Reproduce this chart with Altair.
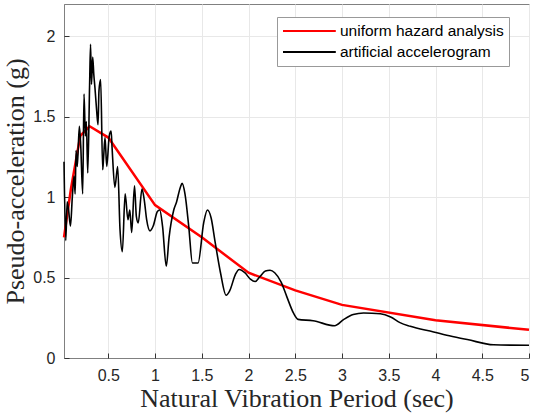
import altair as alt
import pandas as pd

# Uniform hazard analysis spectrum
uha_T = [0.026, 0.1, 0.2, 0.3, 0.5, 1.0, 1.5, 2.0, 2.5, 3.0, 4.0, 5.0]
uha_Sa = [0.75, 1.05, 1.38, 1.44, 1.37, 0.95, 0.75, 0.53, 0.42, 0.33, 0.235, 0.175]

# Artificial accelerogram spectrum
art_T = [0.026, 0.045, 0.06, 0.075, 0.095, 0.115, 0.133, 0.145, 0.155, 0.168,
         0.19, 0.205, 0.226, 0.24, 0.255, 0.265, 0.28, 0.30, 0.31, 0.32,
         0.333, 0.345, 0.357, 0.375, 0.39, 0.40, 0.418, 0.44, 0.45, 0.465,
         0.483, 0.51, 0.53, 0.54, 0.57, 0.60, 0.625, 0.65, 0.68, 0.71,
         0.73, 0.75, 0.78, 0.80, 0.82, 0.86, 0.885, 0.91, 0.946, 0.98,
         1.025, 1.05, 1.08, 1.12, 1.15, 1.20, 1.23, 1.27, 1.29, 1.32,
         1.36, 1.40, 1.46, 1.52, 1.56, 1.60, 1.64, 1.70, 1.76, 1.80,
         1.86, 1.90, 1.96, 2.02, 2.07, 2.12, 2.18, 2.23, 2.28, 2.35,
         2.41, 2.48, 2.53, 2.69, 2.92, 3.02, 3.12, 3.23, 3.41, 3.52,
         3.62, 3.73, 3.98, 4.12, 4.34, 4.62, 5.0]
art_Sa = [1.22, 0.73, 0.97, 0.92, 0.82, 1.00, 1.13, 1.02, 1.29, 1.19,
          1.44, 1.32, 1.02, 1.64, 1.38, 1.47, 1.15, 1.70, 1.95, 1.70,
          1.87, 1.76, 1.68, 1.54, 1.45, 1.66, 1.73, 1.17, 1.25, 1.37,
          1.19, 1.38, 1.41, 1.31, 1.06, 1.19, 0.80, 0.66, 1.02, 0.86,
          0.92, 0.78, 1.07, 0.88, 0.84, 1.05, 0.98, 0.86, 0.79, 0.82,
          0.91, 0.92, 0.82, 0.57, 0.75, 0.92, 0.97, 1.06, 1.085, 1.02,
          0.82, 0.59, 0.59, 0.84, 0.92, 0.87, 0.73, 0.53, 0.39, 0.42,
          0.52, 0.55, 0.53, 0.49, 0.475, 0.505, 0.54, 0.545, 0.53, 0.47,
          0.38, 0.28, 0.24, 0.232, 0.20, 0.24, 0.27, 0.28, 0.275, 0.255,
          0.22, 0.197, 0.162, 0.141, 0.115, 0.082, 0.079]

series_names = ["uniform hazard analysis", "artificial accelerogram"]
series_colors = ["#ff0000", "#000000"]

x_ticks = [0.5, 1, 1.5, 2, 2.5, 3, 3.5, 4, 4.5, 5]
y_ticks = [0, 0.5, 1, 1.5, 2]

df_uha = pd.DataFrame({"T": uha_T, "Sa": uha_Sa, "series": series_names[0]})
df_art = pd.DataFrame({"T": art_T, "Sa": art_Sa, "series": series_names[1]})

W, H = 465, 354
xscale = alt.Scale(domain=[0.026, 5], nice=False, zero=False)
yscale = alt.Scale(domain=[0, 2.2], nice=False)

color = alt.Color(
    "series:N",
    scale=alt.Scale(domain=series_names, range=series_colors),
    legend=alt.Legend(
        title=None, orient="none", legendX=213, legendY=13,
        symbolType="M-1,0H5.6", symbolSize=256, symbolStrokeWidth=2,
        labelFont="Liberation Sans", labelFontSize=15.5, labelColor="#000",
        labelOffset=40, labelLimit=400,
        fillColor="white", strokeColor="#999", padding=5, rowPadding=3,
    ),
)

x_main = alt.X("T:Q", scale=xscale, title="Natural Vibration Period (sec)",
               axis=alt.Axis(orient="bottom", values=x_ticks, grid=True, ticks=False, labelPadding=9,
                             format=".1~f", titlePadding=2))
y_main = alt.Y("Sa:Q", scale=yscale, title="Pseudo-acceleration (g)",
               axis=alt.Axis(orient="left", values=y_ticks, grid=True, ticks=False, labelPadding=9,
                             format=".1~f", titlePadding=4))

red = alt.Chart(df_uha).mark_line(strokeWidth=2.5).encode(
    x=x_main, y=y_main, color=color,
)
black = alt.Chart(df_art).mark_line(strokeWidth=1.6, interpolate="monotone").encode(
    x=alt.X("T:Q", scale=xscale, axis=None), y=alt.Y("Sa:Q", scale=yscale, axis=None), color=color,
)

# inward tick marks (axes moved onto the opposite frame edges)
ticks_layer = alt.Chart(df_art).mark_point(opacity=0).encode(
    x=alt.X("T:Q", scale=xscale, axis=alt.Axis(orient="top", offset=-H, values=x_ticks,
                                                labels=False, grid=False, domain=False,
                                                ticks=True, tickSize=5, tickWidth=1,
                                                title=None, tickColor="#333")),
    y=alt.Y("Sa:Q", scale=yscale, axis=alt.Axis(orient="right", offset=-W, values=y_ticks,
                                                 labels=False, grid=False, domain=False,
                                                 ticks=True, tickSize=5, tickWidth=1,
                                                 title=None, tickColor="#333")),
)

chart = alt.layer(red, ticks_layer, black).resolve_axis(
    x="independent", y="independent"
).properties(
    width=W, height=H,
    autosize="none",
    padding={"left": 64, "top": 4, "right": 5, "bottom": 61},
).configure_axis(
    labelFont="Liberation Sans", labelFontSize=16, labelColor="#262626",
    titleFont="Liberation Serif", titleFontSize=26, titleFontWeight="normal", titleColor="#262626",
    gridColor="#e8e8e8", gridWidth=1, domainColor="#808080",
).configure_view(stroke="#808080", strokeWidth=1)

chart.save("out.html", embed_options={"renderer": "svg", "actions": False})
